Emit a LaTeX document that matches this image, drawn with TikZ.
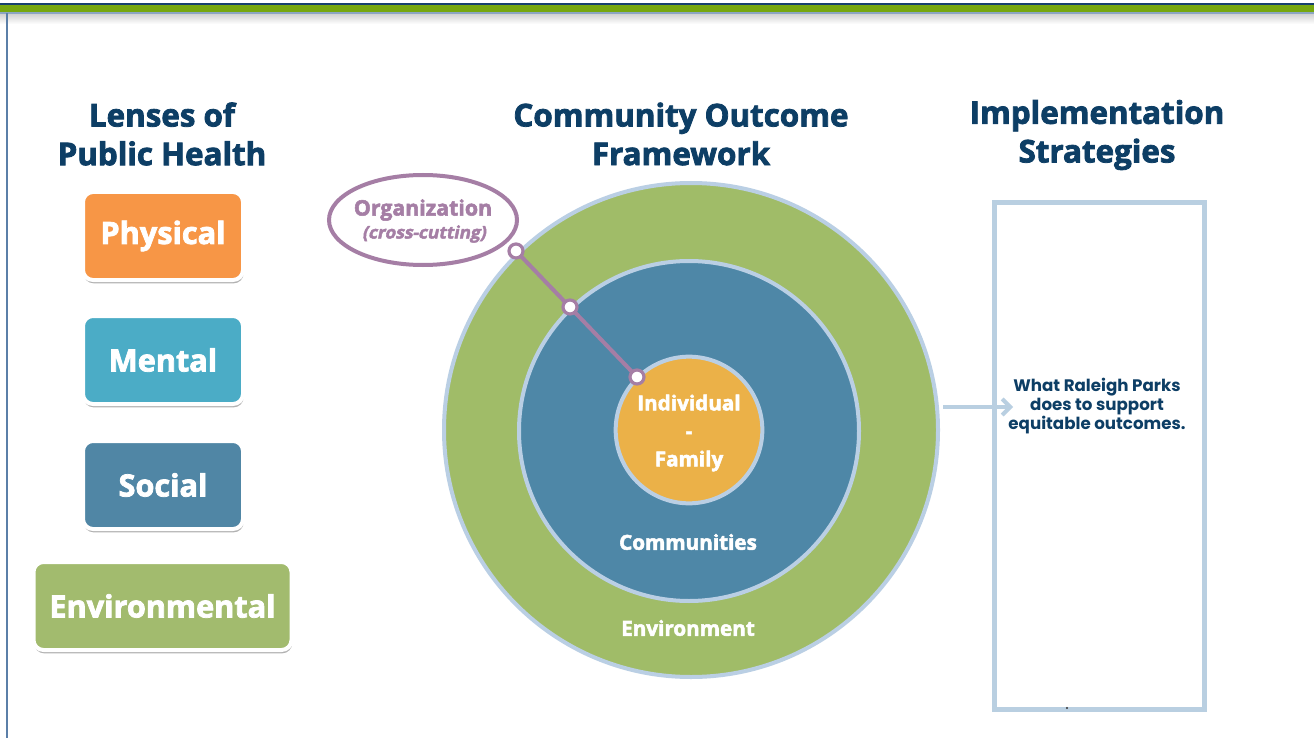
\documentclass[tikz,border=0pt]{standalone}
\usepackage{fontspec}
\setmainfont{Open Sans}[BoldFeatures={FakeBold=2.5}]
\newfontfamily\slbold{Open Sans}[BoldFeatures={FakeBold=2.5,FakeSlant=0.2}]
\newfontfamily\popfont{Poppins}
\usetikzlibrary{shapes.geometric,shadows,arrows.meta}
\definecolor{navy}{RGB}{13,62,101}
\definecolor{physc}{RGB}{247,150,70}
\definecolor{mentc}{RGB}{75,172,198}
\definecolor{socc}{RGB}{80,134,165}
\definecolor{envc}{RGB}{162,187,110}
\definecolor{ringgreen}{RGB}{160,188,104}
\definecolor{ringblue}{RGB}{78,135,167}
\definecolor{ringorange}{RGB}{235,177,72}
\definecolor{ringedge}{RGB}{186,207,228}
\definecolor{orgc}{RGB}{165,126,165}
\definecolor{boxc}{RGB}{185,207,225}
\definecolor{topgreen}{RGB}{118,167,14}
\definecolor{topblue}{RGB}{23,64,109}
\definecolor{sideblue}{RGB}{91,127,168}
\begin{document}
\begin{tikzpicture}[x=0.75pt,y=-0.75pt,
  heading/.style={text=navy,font=\bfseries\fontsize{23.5}{29}\selectfont,align=center},
  lens/.style={draw=white,line width=3pt,rounded corners=7.5pt,text=white,
    font=\bfseries\fontsize{23}{28}\selectfont,minimum width=120pt,minimum height=66pt,
    drop shadow={shadow xshift=0.5pt,shadow yshift=-2.5pt,fill=black,opacity=0.3}},
  ring/.style={circle,draw=ringedge,line width=3pt,inner sep=0pt},
  ringlabel/.style={text=white,font=\bfseries\fontsize{15.5}{20}\selectfont,align=center},
  orglabel/.style={text=orgc,font=\bfseries\fontsize{16}{20}\selectfont},
  orgdot/.style={circle,draw=orgc,fill=white,line width=2.4pt,minimum size=10.5pt,inner sep=0pt},
  orgline/.style={draw=orgc,line width=3pt},
  connarrow/.style={draw=boxc,line width=3pt,-{Straight Barb[length=6pt,width=12pt,line width=3pt]}}
]
\useasboundingbox (0,0) rectangle (1314,738);
\fill[white] (0,0) rectangle (1314,738);
% top bar
\shade[top color=black!18,bottom color=white] (0,14) rectangle (1314,24);
\fill[topblue] (0,3.5) rectangle (1314,5.5);
\fill[topgreen] (0,5.5) rectangle (1314,12.5);
\fill[sideblue!70] (0,12.5) rectangle (1314,14.5);
\draw[sideblue,line width=1pt] (7,13) -- (7,738);
% headings
\node[heading] (h1) at (162,134) {Lenses of\\Public Health};
\node[heading] (h2) at (681,134) {Community Outcome\\Framework};
\node[heading] (h3) at (1097,135) {Implementation\\Strategies};
% lenses
\node[lens,fill=physc] (phys) at (163,236) {Physical};
\node[lens,fill=mentc] (ment) at (163,360) {Mental};
\node[lens,fill=socc] (soc) at (163,485) {Social};
\node[lens,fill=envc,minimum width=193.5pt] (env) at (162.5,606) {Environmental};
% rings
\node[ring,fill=ringgreen,minimum size=370.5pt] (outer) at (691,430) {};
\node[ring,fill=ringblue,minimum size=255pt] (mid) at (689,431) {};
\node[ring,fill=ringorange,minimum size=110pt] (inner) at (689,430) {};
\node[ringlabel] (lind) at (689,433) {Individual\\[1pt]-\\[1pt]Family};
\node[ringlabel] (lcom) at (688,542) {Communities};
\node[ringlabel] (lenv) at (688,628) {Environment};
% organization
\node[ellipse,draw=orgc,line width=3pt,fill=white,minimum width=141pt,minimum height=67.5pt,inner sep=0pt] (org) at (423,220) {};
\node[orglabel] (orgt1) at (423,210) {Organization};
\node[orglabel,font=\slbold\bfseries\fontsize{13}{17}\selectfont] (orgt2) at (424,234) {(cross-cutting)};
\coordinate (p1) at (516,251);
\coordinate (p2) at (570,307);
\coordinate (p3) at (637,377);
\draw[orgline] (p1) -- (p3);
\node[orgdot] (d1) at (p1) {};
\node[orgdot] (d2) at (p2) {};
\node[orgdot] (d3) at (p3) {};
% implementation box
\node[draw=boxc,line width=3.75pt,minimum width=157.5pt,minimum height=380pt,inner sep=0pt] (impl) at (1099.5,456) {};
\coordinate (aS) at (943,407);
\coordinate (aE) at (1013,407);
\draw[connarrow] (aS) -- (aE);
\node[text=navy,align=center,font=\popfont\bfseries\fontsize{12.5}{14}\selectfont] (itext) at (1097,406)
  {What Raleigh Parks\\does to support\\equitable outcomes.};
\fill[black!80] (1067,708) circle (1.2);
\end{tikzpicture}
\end{document}
